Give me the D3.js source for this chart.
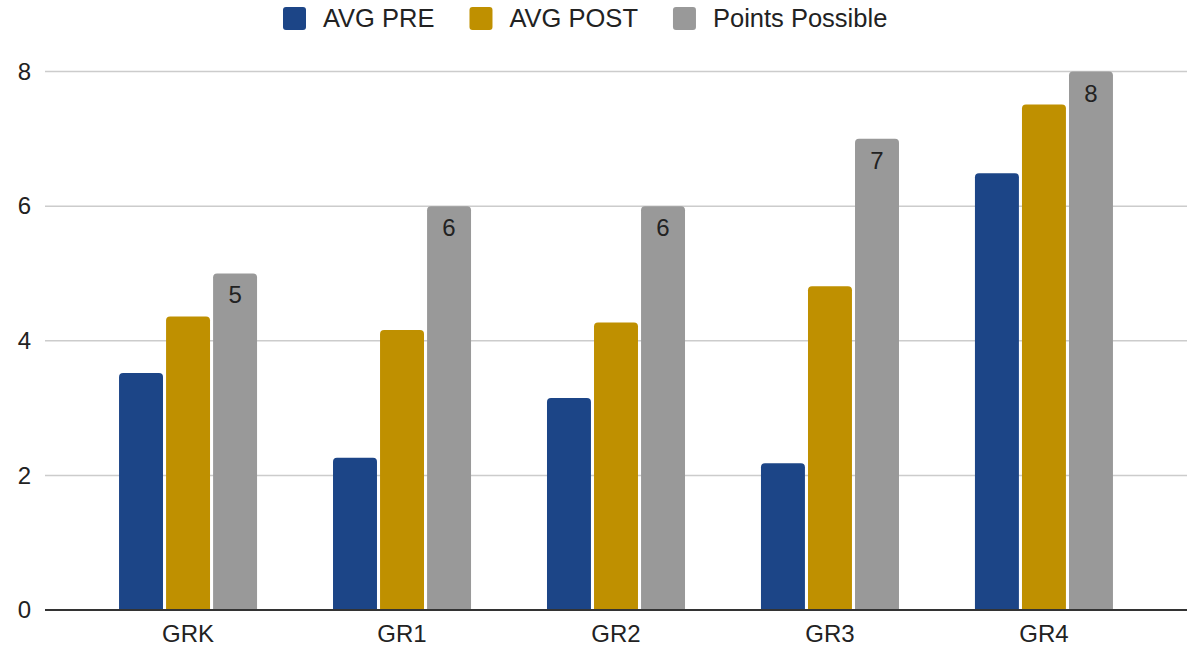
<!DOCTYPE html>
<html>
<head>
<meta charset="utf-8">
<script src="https://cdn.jsdelivr.net/npm/d3@7"></script>
<style>
  body { margin: 0; background: #fff; }
  text { font-family: Arial, "Liberation Sans", sans-serif; }
</style>
</head>
<body>
<div id="chart"></div>
<script>
// data
var grades = ["GRK", "GR1", "GR2", "GR3", "GR4"];
var avgPre = [3.52, 2.26, 3.15, 2.18, 6.49];
var avgPost = [4.36, 4.16, 4.27, 4.81, 7.51];
var pointsPossible = [5, 6, 6, 7, 8];
var seriesNames = ["AVG PRE", "AVG POST", "Points Possible"];
var seriesColors = ["#1c4587", "#bf9000", "#999999"];
var yTicks = [0, 2, 4, 6, 8];

var svgWidth = 1196;
var svgHeight = 646;

var margin = { top: 71.5, right: 9, bottom: 36, left: 45 };

var width = svgWidth - margin.left - margin.right;
var height = svgHeight - margin.top - margin.bottom;

var svg = d3.select("#chart")
    .append("svg")
    .attr("width", svgWidth)
    .attr("height", svgHeight);

var chartGroup = svg.append("g")
    .attr("transform", `translate(${margin.left}, ${margin.top})`);

// scales
var x0 = d3.scaleBand()
    .domain(grades)
    .range([0, width])
    .paddingInner(0.355)
    .paddingOuter(0.346);

var x1 = d3.scaleBand()
    .domain(seriesNames)
    .range([0, x0.bandwidth()])
    .paddingInner(0.065);

var y = d3.scaleLinear()
    .domain([0, 8])
    .range([height, 0]);

// gridlines
chartGroup.append("g")
    .selectAll("line")
    .data(yTicks.filter(d => d > 0))
    .enter()
    .append("line")
    .attr("x1", 0)
    .attr("x2", width)
    .attr("y1", d => y(d))
    .attr("y2", d => y(d))
    .attr("stroke", "#cccccc")
    .attr("stroke-width", 1.5);

// y axis labels
var yAxis = d3.axisLeft(y).tickValues(yTicks).tickSize(0).tickPadding(14);
chartGroup.append("g")
    .call(yAxis)
    .call(g => g.select(".domain").remove())
    .selectAll("text")
    .attr("font-size", "24px")
    .attr("fill", "#222");

// bars, rounded on top
function barPath(x, yTop, w, h, r) {
    r = Math.min(r, h, w / 2);
    return "M" + x + "," + (yTop + h) +
        "V" + (yTop + r) +
        "Q" + x + "," + yTop + " " + (x + r) + "," + yTop +
        "H" + (x + w - r) +
        "Q" + (x + w) + "," + yTop + " " + (x + w) + "," + (yTop + r) +
        "V" + (yTop + h) + "Z";
}

var rows = grades.map(function(g, i) {
    return { grade: g, values: [avgPre[i], avgPost[i], pointsPossible[i]] };
});

var groups = chartGroup.selectAll(".grade")
    .data(rows)
    .enter()
    .append("g")
    .attr("transform", d => `translate(${x0(d.grade)}, 0)`);

groups.selectAll("path")
    .data(d => d.values.map((v, j) => ({ name: seriesNames[j], value: v, color: seriesColors[j] })))
    .enter()
    .append("path")
    .attr("d", d => barPath(x1(d.name), y(d.value), x1.bandwidth(), height - y(d.value), 4))
    .attr("fill", d => d.color);

// value labels on points possible
groups.append("text")
    .attr("x", x1("Points Possible") + x1.bandwidth() / 2)
    .attr("y", d => y(d.values[2]) + 30)
    .attr("text-anchor", "middle")
    .attr("font-size", "24px")
    .attr("fill", "#222")
    .text(d => d.values[2]);

// baseline
chartGroup.append("line")
    .attr("x1", 0)
    .attr("x2", width)
    .attr("y1", height)
    .attr("y2", height)
    .attr("stroke", "#333")
    .attr("stroke-width", 2);

// x axis labels
var xAxis = d3.axisBottom(x0).tickSize(0).tickPadding(15);
chartGroup.append("g")
    .attr("transform", `translate(0, ${height})`)
    .call(xAxis)
    .call(g => g.select(".domain").remove())
    .selectAll("text")
    .attr("font-size", "24px")
    .attr("fill", "#222");

// legend
var legend = svg.append("g").attr("transform", "translate(283, 7)");
var lx = 0;
seriesNames.forEach(function(name, i) {
    legend.append("rect")
        .attr("x", lx)
        .attr("y", 0)
        .attr("width", 23)
        .attr("height", 23)
        .attr("rx", 3)
        .attr("fill", seriesColors[i]);
    var t = legend.append("text")
        .attr("x", lx + 40)
        .attr("y", 20)
        .attr("font-size", "25.5px")
        .attr("fill", "#222")
        .text(name);
    lx += 40 + t.node().getComputedTextLength() + 35;
});
</script>
</body>
</html>
